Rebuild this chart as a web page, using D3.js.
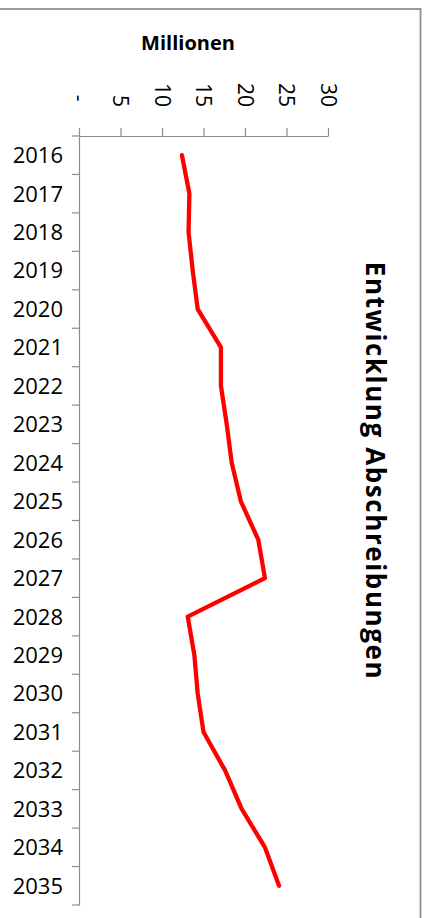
<!DOCTYPE html>
<html>
<head>
<meta charset="utf-8">
<script src="https://cdn.jsdelivr.net/npm/d3@7"></script>
<style>
  html, body { margin: 0; padding: 0; background: #fff; }
  svg { display: block; }
  text { font-family: "Open Sans", "Liberation Sans", sans-serif; fill: #000; }
</style>
</head>
<body>
<svg id="chart" width="430" height="918"></svg>
<script>
// ---- data ----
const years = ["2016","2017","2018","2019","2020","2021","2022","2023","2024","2025",
               "2026","2027","2028","2029","2030","2031","2032","2033","2034","2035"];
const values = [12.4, 13.3, 13.2, 13.7, 14.3, 17.1, 17.1, 17.8, 18.4, 19.5,
                21.6, 22.4, 13.1, 13.9, 14.3, 15.0, 17.6, 19.6, 22.4, 24.1];
const valueTicks = [0, 5, 10, 15, 20, 25, 30];
const valueTickLabels = ["- ", "5", "10", "15", "20", "25", "30"];
const titleText = "Entwicklung Abschreibungen";
const unitText = "Millionen";

// ---- layout ----
const svg = d3.select("#chart");
const plotLeft = 79, plotRight = 328, plotTop = 136, plotBottom = 905;
const axisColor = "#8c8c8c";

// frame
svg.append("rect")
  .attr("x", -5).attr("y", 9)
  .attr("width", 425.5).attr("height", 940)
  .attr("fill", "none").attr("stroke", "#8f8f8f").attr("stroke-width", 1.8);

const x = d3.scaleLinear().domain([0, 30]).range([plotLeft, plotRight]);
const y = d3.scaleBand().domain(years).range([plotTop, plotBottom]).padding(0);

// value axis (top)
const xAxis = svg.append("g").attr("transform", `translate(0,${plotTop})`)
  .call(d3.axisTop(x).tickValues(valueTicks).tickSize(8).tickSizeOuter(0)
        .tickFormat((d, i) => valueTickLabels[i]));
xAxis.select(".domain").attr("stroke", axisColor).attr("stroke-width", 1.2);
xAxis.selectAll(".tick line").attr("stroke", axisColor).attr("stroke-width", 1.2);
xAxis.selectAll(".tick text")
  .attr("x", 0).attr("y", 0).attr("dy", "0.36em")
  .attr("text-anchor", "end")
  .style("white-space", "pre")
  .attr("font-size", 21)
  .attr("transform", `translate(0,${107 - plotTop}) rotate(90)`);

// category axis (left)
const yAxis = svg.append("g").attr("transform", `translate(${plotLeft},0)`)
  .call(d3.axisLeft(y).tickSize(0).tickPadding(16));
yAxis.select(".domain").attr("stroke", axisColor).attr("stroke-width", 1.2);
yAxis.selectAll(".tick text").attr("font-size", 22).attr("dy", "0.36em");

// category boundary ticks
const bounds = years.map(d => y(d)).concat([y(years[years.length - 1]) + y.bandwidth()]);
svg.append("g").selectAll("line").data(bounds).join("line")
  .attr("x1", plotLeft - 7).attr("x2", plotLeft)
  .attr("y1", d => d).attr("y2", d => d)
  .attr("stroke", axisColor).attr("stroke-width", 1.2);

// line
const line = d3.line()
  .x(d => x(d.v))
  .y(d => y(d.year) + y.bandwidth() / 2);
svg.append("path")
  .datum(years.map((yr, i) => ({ year: yr, v: values[i] })))
  .attr("d", line)
  .attr("fill", "none")
  .attr("stroke", "#ff0000")
  .attr("stroke-width", 4.3)
  .attr("stroke-linejoin", "round")
  .attr("stroke-linecap", "round");

// unit label
svg.append("text")
  .attr("x", 188).attr("y", 50)
  .attr("text-anchor", "middle")
  .attr("font-size", 20).attr("font-weight", "bold")
  .text(unitText);

// title (rotated)
svg.append("text")
  .attr("transform", "translate(366,471) rotate(90)")
  .attr("text-anchor", "middle")
  .attr("font-size", 26).attr("font-weight", "bold")
  .attr("letter-spacing", "1.6px")
  .text(titleText);
</script>
</body>
</html>
